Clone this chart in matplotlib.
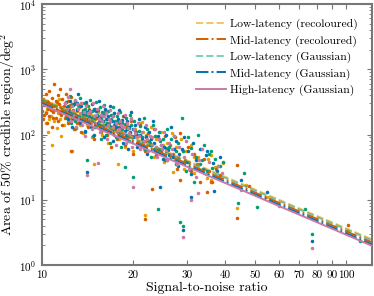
import matplotlib as mpl
mpl.use("Agg")
import matplotlib.pyplot as plt
from matplotlib.ticker import FixedLocator, FixedFormatter, LogLocator, NullFormatter


# scatter: (SNR, area), one list pair per pipeline
LOW_RECOL_SNR = [10.0, 10.1, 10.2, 10.3, 10.4, 10.5, 10.6, 10.7, 10.8, 10.9, 11.0, 11.1, 11.2, 11.3, 11.4, 11.5,
                 11.6, 11.7, 11.8, 11.9, 12.0, 12.2, 12.4, 12.6, 12.7, 12.9, 13.1, 13.3, 13.5, 13.7, 13.9, 14.1,
                 14.3, 14.6, 14.8, 14.9, 15.1, 15.3, 15.6, 15.8, 16.0, 16.3, 16.5, 16.8, 17.0, 17.3, 17.6, 17.8,
                 17.9, 18.2, 18.5, 18.8, 19.1, 19.4, 19.7, 19.9, 20.3, 20.7, 21.0, 21.3, 21.6, 21.8, 22.0, 22.4,
                 22.9, 23.3, 23.7, 24.2, 24.7, 25.2, 25.7, 26.2, 26.7, 27.0, 27.5, 28.1, 28.7, 29.3, 29.8, 30.4,
                 31.0, 31.6, 31.7, 32.5, 33.3, 34.2, 34.8, 35.1, 36.0, 36.0, 37.0, 39.3, 43.6, 47.0, 55.0, 100.5,
                 10.3, 10.6, 11.0, 11.5, 12.1, 12.5, 13.0, 13.4, 14.0, 14.5, 15.0, 15.5, 16.2, 16.7, 17.5, 18.0,
                 18.7, 19.5, 20.5, 21.5, 22.5, 23.5, 25.0]
LOW_RECOL_AREA = [280, 200, 340, 150, 250, 110, 300, 190, 70, 230, 160, 280, 125, 210, 350, 175,
                  95, 250, 140, 300, 200, 160, 260, 55, 190, 120, 230, 160, 300, 105, 200, 140,
                  250, 90, 180, 35, 130, 220, 160, 100, 190, 130, 75, 170, 110, 210, 140, 35,
                  85, 160, 105, 65, 140, 90, 180, 55, 120, 80, 150, 158, 60, 5.9, 100, 70,
                  130, 45, 85, 60, 110, 38, 75, 50, 107, 27, 65, 42, 85, 30, 55, 38,
                  70, 46, 26, 45, 60, 30, 21.7, 42, 20, 49, 32, 37, 7.5, 17, 11, 3.3,
                  220, 170, 240, 260, 250, 180, 200, 140, 180, 200, 170, 120, 150, 130, 115, 120,
                  130, 105, 90, 110, 75, 95, 70]

MID_RECOL_SNR = [10.0, 10.1, 10.1, 10.2, 10.3, 10.3, 10.4, 10.5, 10.5, 10.6, 10.6, 10.7, 10.8, 10.8, 10.9, 11.0,
                 11.0, 11.1, 11.1, 11.2, 11.3, 11.3, 11.4, 11.5, 11.5, 11.6, 11.7, 11.7, 11.8, 11.9, 11.9, 12.0,
                 12.1, 12.2, 12.2, 12.3, 12.4, 12.5, 12.5, 12.6, 12.7, 12.8, 12.9, 13.0, 13.1, 13.3, 13.5, 13.6,
                 13.8, 14.0, 14.2, 14.4, 14.6, 14.8, 15.0, 15.2, 15.5, 15.7, 15.9, 16.1, 16.4, 16.6, 16.9, 17.1,
                 17.4, 17.7, 17.9, 18.2, 18.5, 18.8, 19.1, 19.4, 19.7, 19.9, 20.2, 20.6, 21.0, 21.4, 21.8, 21.9,
                 22.3, 22.8, 23.0, 23.3, 23.8, 24.3, 24.8, 25.3, 25.8, 26.3, 26.9, 27.4, 27.9, 28.4, 28.5, 29.0,
                 29.6, 30.2, 30.8, 31.6, 32.4, 33.2, 34.0, 34.8, 35.5, 36.0, 36.3, 37.2, 38.4, 43.7, 43.8, 48.0,
                 56.0, 101.0,
                 10.2, 10.4, 10.7, 10.9, 11.2, 11.4, 11.6, 11.8, 12.0, 12.3, 12.6, 13.2, 13.7, 14.3, 15.1, 16.0,
                 17.0, 18.0, 19.0, 20.4, 22.0, 24.0]
MID_RECOL_AREA = [230, 350, 170, 280, 420, 210, 150, 320, 250, 190, 460, 290, 130, 360, 220, 270,
                  600, 180, 330, 240, 400, 160, 290, 210, 500, 260, 140, 350, 230, 300, 180, 420,
                  250, 150, 330, 200, 280, 380, 55, 170, 240, 120, 310, 200, 150, 260, 110, 210,
                  170, 290, 130, 220, 160, 85, 250, 140, 190, 110, 160, 230, 100, 150, 65, 190,
                  120, 85, 150, 110, 190, 70, 130, 95, 160, 50, 115, 75, 140, 90, 5.1, 55,
                  105, 70, 14.5, 120, 48, 85, 60, 95, 40, 70, 50, 90, 30, 107, 20, 55,
                  40, 65, 28, 50, 35, 19, 42, 13.3, 28, 19, 19, 30, 24, 34.6, 5.3, 16,
                  10, 4.1,
                  200, 330, 240, 180, 310, 230, 200, 270, 190, 240, 290, 190, 240, 170, 180, 140,
                  130, 105, 120, 95, 80, 60]

LOW_GAUSS_SNR = [12.0, 12.1, 12.3, 12.4, 12.5, 12.7, 12.8, 12.9, 13.0, 13.1, 13.3, 13.4, 13.5, 13.7, 13.8, 13.9,
                 14.0, 14.1, 14.2, 14.3, 14.4, 14.6, 14.7, 14.8, 15.0, 15.1, 15.2, 15.4, 15.5, 15.6, 15.8, 15.9,
                 16.0, 16.2, 16.3, 16.5, 16.6, 16.8, 16.9, 17.1, 17.2, 17.4, 17.6, 17.7, 17.9, 18.1, 18.2, 18.4,
                 18.6, 18.8, 18.9, 19.1, 19.3, 19.5, 19.6, 19.8, 20.0, 20.1, 20.4, 20.7, 21.0, 21.3, 21.6, 21.9,
                 22.2, 22.5, 22.9, 23.2, 23.5, 23.8, 24.0, 24.2, 24.6, 25.0, 25.4, 25.8, 26.2, 26.7, 27.1, 27.6,
                 28.0, 28.4, 29.0, 28.8, 29.2, 29.7, 30.2, 30.6, 31.0, 31.5, 32.0, 32.6, 33.2, 33.6, 34.0, 34.8,
                 35.5, 36.0, 36.2, 37.0, 38.0, 38.5, 39.5, 44.0, 46.0, 50.8, 73.0, 77.0, 111.0,
                 12.2, 12.6, 12.9, 13.2, 13.6, 13.9, 14.3, 14.6, 14.9, 15.3, 15.7, 16.1, 16.4, 16.9, 17.3, 17.8,
                 18.3, 18.7, 19.0, 19.4, 20.3, 20.9, 21.5, 22.0, 22.7, 23.4, 24.5, 25.6, 26.5, 27.5]
LOW_GAUSS_AREA = [310, 180, 240, 390, 150, 280, 210, 330, 125, 250, 190, 360, 160, 230, 300, 110,
                  200, 41, 270, 150, 340, 180, 95, 240, 130, 310, 200, 160, 260, 85, 220, 140,
                  280, 170, 100, 230, 140, 75, 200, 120, 260, 160, 90, 190, 130, 220, 65, 150,
                  105, 32, 180, 120, 80, 200, 140, 95, 22.5, 160, 110, 70, 135, 90, 180, 60,
                  120, 80, 45, 142, 95, 65, 7.3, 110, 55, 85, 40, 120, 65, 48, 95, 35,
                  75, 4.6, 4.0, 180, 55, 28, 90, 29, 62, 19, 45, 100, 35, 41, 70, 28,
                  50, 55, 31, 42, 33, 33, 38, 9.0, 26, 7.8, 7.3, 3.0, 2.3,
                  270, 190, 160, 280, 210, 250, 190, 230, 170, 240, 180, 210, 150, 170, 140, 160,
                  120, 145, 100, 125, 95, 115, 70, 95, 75, 60, 80, 62, 85, 55]

MID_GAUSS_SNR = [12.1, 12.2, 12.4, 12.5, 12.6, 12.8, 13.0, 13.1, 13.2, 13.4, 13.5, 13.7, 13.9, 14.0, 14.1, 14.2,
                 14.3, 14.5, 14.6, 14.8, 14.9, 15.1, 15.3, 15.4, 15.6, 15.7, 15.9, 16.0, 16.1, 16.3, 16.5, 16.7,
                 16.8, 17.0, 17.2, 17.3, 17.5, 17.8, 17.9, 18.0, 18.2, 18.5, 18.6, 18.8, 19.0, 19.2, 19.4, 19.7,
                 19.9, 20.2, 20.5, 20.8, 21.1, 21.5, 21.8, 22.1, 22.5, 22.8, 23.2, 23.6, 24.0, 24.4, 24.6, 25.0,
                 25.5, 26.0, 26.5, 27.0, 27.5, 28.0, 29.0, 28.8, 29.4, 29.9, 30.3, 30.9, 31.0, 31.4, 32.2, 33.0,
                 33.8, 34.6, 35.0, 36.5, 36.7, 37.5, 38.6, 45.0, 55.0, 77.0,
                 12.3, 12.7, 13.1, 13.6, 14.1, 14.4, 14.8, 15.2, 15.5, 16.0, 16.4, 16.9, 17.4, 17.9, 18.4, 18.9,
                 19.5, 20.0, 20.6, 21.3, 22.0, 22.6, 23.4, 24.2, 25.2, 26.2, 27.2, 28.3]
MID_GAUSS_AREA = [260, 170, 330, 210, 130, 290, 180, 240, 420, 150, 270, 200, 115, 310, 27, 175,
                  240, 130, 290, 190, 100, 230, 150, 330, 120, 200, 160, 90, 250, 140, 190, 110,
                  270, 160, 80, 210, 130, 175, 100, 240, 140, 75, 190, 115, 160, 60, 130, 220,
                  90, 140, 65, 170, 100, 75, 130, 50, 110, 85, 160, 55, 95, 15.8, 70, 42,
                  100, 58, 130, 45, 80, 33, 3.45, 60, 90, 38, 55, 25, 11, 75, 40, 60,
                  30, 48, 55, 36, 13.7, 28, 45, 20, 13, 2.34,
                  230, 180, 300, 170, 220, 180, 250, 190, 140, 200, 170, 130, 150, 125, 165, 95,
                  110, 120, 100, 85, 90, 70, 75, 60, 65, 48, 60, 50]

HIGH_GAUSS_SNR = [11.9, 12.0, 12.2, 12.4, 12.5, 12.6, 12.8, 12.9, 13.0, 13.2, 13.3, 13.5, 13.6, 13.8, 13.9, 14.0,
                  14.1, 14.3, 14.4, 14.6, 14.7, 14.9, 15.0, 15.2, 15.3, 15.5, 15.6, 15.8, 15.9, 16.1, 16.2, 16.4,
                  16.6, 16.7, 16.9, 17.1, 17.3, 17.5, 17.6, 17.8, 17.9, 18.1, 18.3, 18.5, 18.7, 18.9, 19.1, 19.3,
                  19.6, 19.8, 20.0, 20.1, 20.4, 20.7, 21.0, 21.3, 21.7, 22.0, 22.4, 22.7, 23.1, 23.5, 23.9, 24.3,
                  24.8, 25.2, 25.7, 26.1, 26.6, 27.2, 27.7, 28.3, 29.0, 29.3, 29.8, 30.5, 31.0, 31.2, 32.0, 32.5,
                  32.8, 33.7, 34.5, 35.5, 36.8, 38.0, 39.2, 45.0, 60.0, 77.0,
                  12.1, 12.3, 12.7, 13.1, 13.4, 13.7, 14.2, 14.5, 15.1, 15.4, 15.7, 16.0, 16.5, 16.8, 17.2, 17.7,
                  18.2, 18.6, 19.2, 19.7, 20.3, 20.9, 21.5, 22.2, 23.0, 23.8, 24.6, 25.5, 26.8, 28.0]
HIGH_GAUSS_AREA = [300, 220, 380, 490, 160, 270, 200, 340, 130, 250, 180, 300, 140, 220, 95, 270,
                   24, 170, 230, 120, 300, 190, 150, 250, 37, 110, 200, 160, 270, 130, 210, 85,
                   170, 240, 120, 190, 100, 150, 70, 210, 120, 160, 95, 130, 200, 75, 150, 105,
                   175, 65, 15.8, 120, 90, 150, 60, 110, 80, 140, 55, 95, 70, 120, 45, 85,
                   60, 110, 40, 75, 50, 95, 35, 65, 2.7, 45, 80, 30, 10, 50, 22, 12.8,
                   40, 60, 25, 38, 22, 33, 26, 14, 8, 1.83,
                   250, 200, 230, 290, 210, 180, 210, 150, 200, 170, 130, 190, 140, 160, 130, 110,
                   140, 105, 125, 90, 105, 95, 75, 85, 90, 65, 70, 55, 60, 45]

# fitted lines: end points at SNR 10 and 122
LINE_SNR = [10, 122]
LOW_RECOL_LINE = [355, 2.45]
MID_RECOL_LINE = [318, 2.2]
LOW_GAUSS_LINE = [340, 2.35]
MID_GAUSS_LINE = [300, 2.05]
HIGH_GAUSS_LINE = [288, 1.95]

X_TICKS = [10, 20, 30, 40, 50, 60, 70, 80, 90, 100]

mpl.rcParams.update({
    "font.family": "serif",
    "font.serif": ["cmr10", "DejaVu Serif"],
    "mathtext.fontset": "cm",
    "axes.formatter.use_mathtext": True,
    "axes.unicode_minus": False,
    "font.size": 10,
})

fig = plt.figure(figsize=(3.74, 2.96), dpi=100)
ax = fig.add_axes([0.1115, 0.1047, 0.8835, 0.8818])

scatters = [
    (LOW_RECOL_SNR, LOW_RECOL_AREA, "#E69F00"),
    (MID_RECOL_SNR, MID_RECOL_AREA, "#D55E00"),
    (LOW_GAUSS_SNR, LOW_GAUSS_AREA, "#009E73"),
    (MID_GAUSS_SNR, MID_GAUSS_AREA, "#0072B2"),
    (HIGH_GAUSS_SNR, HIGH_GAUSS_AREA, "#CC79A7"),
]
for snr, area, col in scatters:
    ax.scatter(snr, area, s=6.5, c=col, linewidths=0, zorder=2)

lines = [
    (LOW_RECOL_LINE, "#E69F00", "--", 0.6, "Low-latency (recoloured)"),
    (MID_RECOL_LINE, "#D55E00", "-.", 1.0, "Mid-latency (recoloured)"),
    (LOW_GAUSS_LINE, "#009E73", "--", 0.5, "Low-latency (Gaussian)"),
    (MID_GAUSS_LINE, "#0072B2", "-.", 1.0, "Mid-latency (Gaussian)"),
    (HIGH_GAUSS_LINE, "#CC79A7", "-", 1.0, "High-latency (Gaussian)"),
]
for vals, col, ls, alpha, label in lines:
    ax.plot(LINE_SNR, vals, ls=ls, color=col, alpha=alpha, lw=1.4, label=label, zorder=3)

ax.set_xscale("log")
ax.set_yscale("log")
ax.set_xlim(10, 121.5)
ax.set_ylim(1, 1e4)

ax.xaxis.set_major_locator(FixedLocator(X_TICKS))
ax.xaxis.set_major_formatter(FixedFormatter([str(t) for t in X_TICKS]))
ax.xaxis.set_minor_locator(FixedLocator([]))
ax.yaxis.set_major_locator(LogLocator(base=10, numticks=10))
ax.yaxis.set_minor_locator(LogLocator(base=10, subs=range(2, 10), numticks=20))
ax.yaxis.set_minor_formatter(NullFormatter())

ax.tick_params(which="both", direction="in", top=True, right=True, color="#777777", labelsize=8)
ax.tick_params(which="major", length=3.5, width=0.8, pad=4)
ax.tick_params(which="minor", length=2, width=0.6)
for sp in ax.spines.values():
    sp.set_color("#777777")
    sp.set_linewidth(1.5)

ax.set_xlabel("Signal-to-noise ratio", fontsize=10, labelpad=1)
ax.set_ylabel("Area of 50% credible region/deg$^2$", fontsize=10, labelpad=1.5)

ax.legend(loc="upper right", frameon=False, fontsize=8.4, handlelength=2.6,
          handletextpad=0.3, labelspacing=0.45, borderaxespad=0.85)

fig.savefig("out.png", dpi=100)
